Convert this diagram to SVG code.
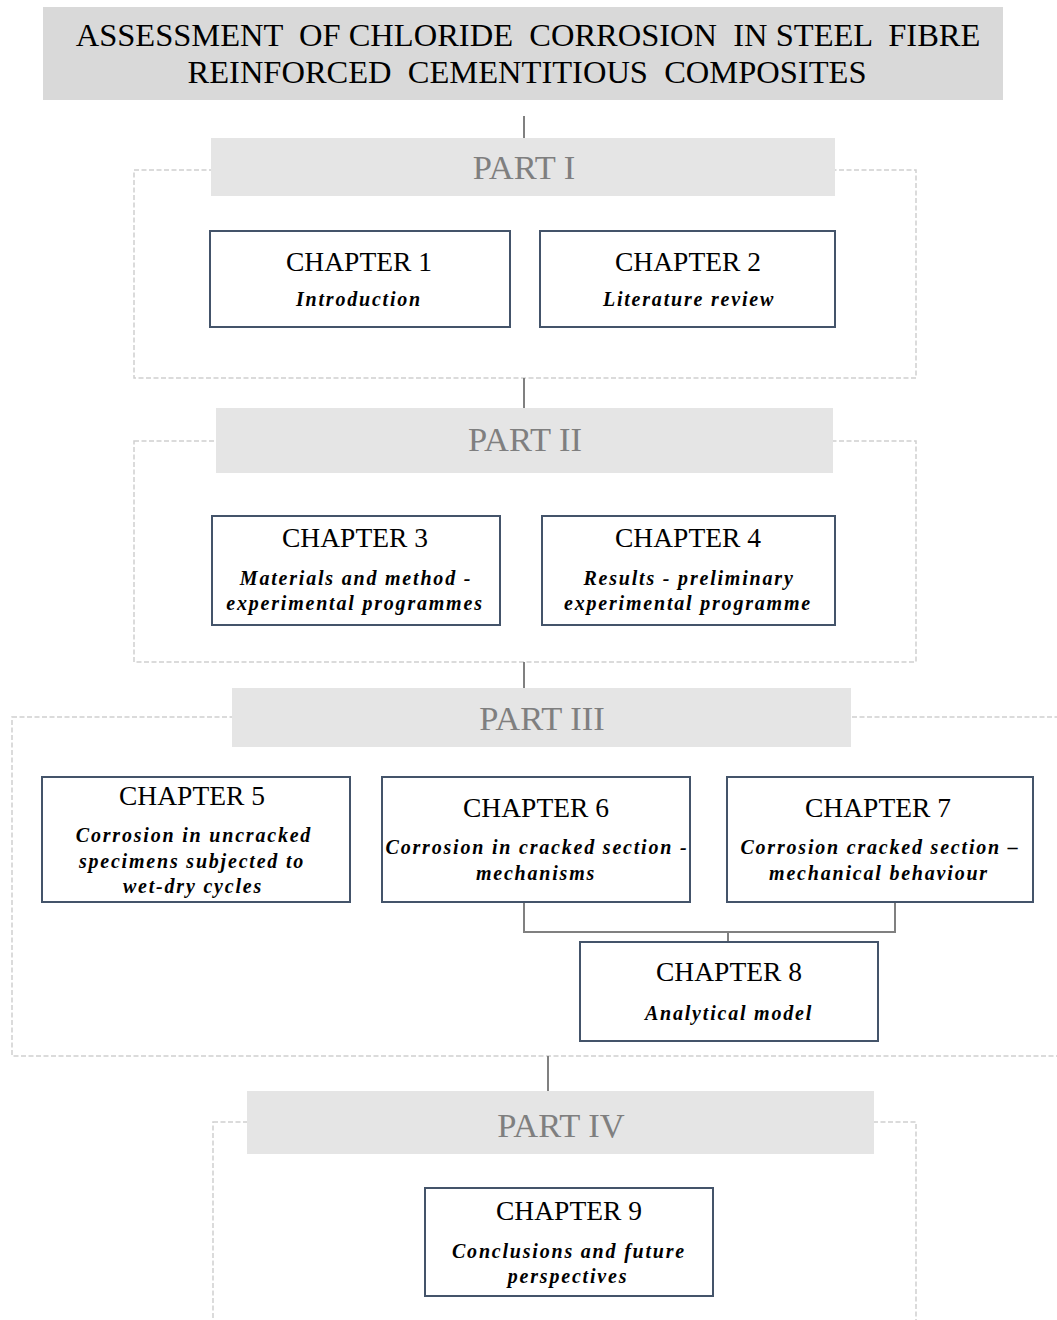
<svg xmlns="http://www.w3.org/2000/svg" width="1057" height="1320" viewBox="0 0 1057 1320">
<style>
.dash{fill:none;stroke:#d0d0d0;stroke-width:1.5;stroke-dasharray:5 2.5}
.part{fill:#e5e5e5}
.ptxt{font-family:"Liberation Serif","Times New Roman",serif;font-size:34.5px;fill:#7f7f7f;text-anchor:middle}
.box{fill:#fff;stroke:#44546a;stroke-width:2}
.ch{font-family:"Liberation Serif","Times New Roman",serif;font-size:27.5px;fill:#000;text-anchor:middle}
.sub{font-family:"Liberation Serif","Times New Roman",serif;font-size:20px;font-weight:bold;font-style:italic;letter-spacing:1.8px;fill:#000;text-anchor:middle}
.conn{fill:none;stroke:#808080;stroke-width:2}
.title{font-family:"Liberation Serif","Times New Roman",serif;font-size:32.5px;fill:#000;text-anchor:middle}
</style>
<rect width="1057" height="1320" fill="#fff"/>
<g id="frames">
<rect class="dash" x="134" y="170" width="782" height="208"/>
<rect class="dash" x="134" y="441" width="782" height="221"/>
<rect class="dash" x="12" y="717" width="1060" height="339"/>
<rect class="dash" x="213" y="1122" width="703" height="220"/>
</g>
<g id="connectors">
<line class="conn" x1="524" y1="116" x2="524" y2="140"/>
<line class="conn" x1="524" y1="378" x2="524" y2="408"/>
<line class="conn" x1="524" y1="662" x2="524" y2="688"/>
<polyline class="conn" points="524,902 524,932 895,932 895,902"/>
<line class="conn" x1="728" y1="932" x2="728" y2="942"/>
<line class="conn" x1="548" y1="1056" x2="548" y2="1091"/>
</g>
<g id="title">
<rect x="43" y="7" width="960" height="93" fill="#d9d9d9"/>
<text class="title" x="528" y="46" xml:space="preserve">ASSESSMENT  OF CHLORIDE  CORROSION  IN STEEL  FIBRE</text>
<text class="title" x="527" y="83" xml:space="preserve">REINFORCED  CEMENTITIOUS  COMPOSITES</text>
</g>
<g id="part1"><rect class="part" x="211" y="138" width="624" height="58"/><text class="ptxt" x="524" y="179">PART I</text></g>
<g id="part2"><rect class="part" x="216" y="408" width="617" height="65"/><text class="ptxt" x="525" y="451">PART II</text></g>
<g id="part3"><rect class="part" x="232" y="688" width="619" height="59"/><text class="ptxt" x="542" y="730">PART III</text></g>
<g id="part4"><rect class="part" x="247" y="1091" width="627" height="63"/><text class="ptxt" x="561" y="1137">PART IV</text></g>
<g id="ch1"><rect class="box" x="210" y="231" width="300" height="96"/><text class="ch" x="359" y="271">CHAPTER 1</text><text class="sub" x="359" y="306">Introduction</text></g>
<g id="ch2"><rect class="box" x="540" y="231" width="295" height="96"/><text class="ch" x="688" y="271">CHAPTER 2</text><text class="sub" x="689" y="306">Literature review</text></g>
<g id="ch3"><rect class="box" x="212" y="516" width="288" height="109"/><text class="ch" x="355" y="547">CHAPTER 3</text><text class="sub" x="356" y="585">Materials and method -</text><text class="sub" x="355" y="610">experimental programmes</text></g>
<g id="ch4"><rect class="box" x="542" y="516" width="293" height="109"/><text class="ch" x="688" y="547">CHAPTER 4</text><text class="sub" x="689" y="585">Results - preliminary</text><text class="sub" x="688" y="610">experimental programme</text></g>
<g id="ch5"><rect class="box" x="42" y="777" width="308" height="125"/><text class="ch" x="192" y="805">CHAPTER 5</text><text class="sub" x="194" y="842">Corrosion in uncracked</text><text class="sub" x="192" y="868">specimens subjected to</text><text class="sub" x="193" y="893">wet-dry cycles</text></g>
<g id="ch6"><rect class="box" x="382" y="777" width="308" height="125"/><text class="ch" x="536" y="817">CHAPTER 6</text><text class="sub" x="537" y="854">Corrosion in cracked section -</text><text class="sub" x="536" y="880">mechanisms</text></g>
<g id="ch7"><rect class="box" x="727" y="777" width="306" height="125"/><text class="ch" x="878" y="817">CHAPTER 7</text><text class="sub" x="880" y="854">Corrosion cracked section –</text><text class="sub" x="879" y="880">mechanical  behaviour</text></g>
<g id="ch8"><rect class="box" x="580" y="942" width="298" height="99"/><text class="ch" x="729" y="981">CHAPTER 8</text><text class="sub" x="729" y="1020">Analytical model</text></g>
<g id="ch9"><rect class="box" x="425" y="1188" width="288" height="108"/><text class="ch" x="569" y="1220">CHAPTER 9</text><text class="sub" x="569" y="1258">Conclusions and future</text><text class="sub" x="568" y="1283">perspectives</text></g>
</svg>
